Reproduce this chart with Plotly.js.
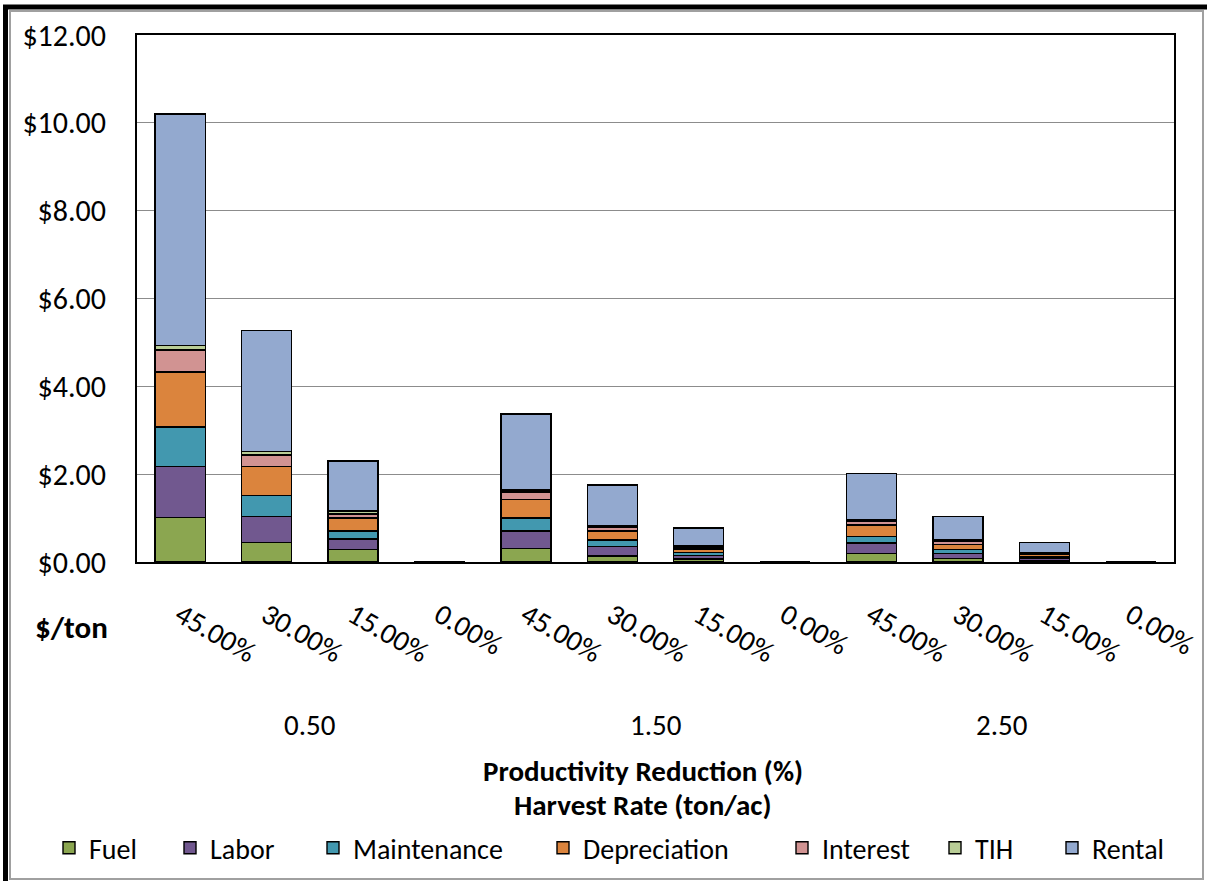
<!DOCTYPE html>
<html>
<head>
<meta charset="utf-8">
<script src="https://cdn.plot.ly/plotly-3.0.1.min.js"></script>
<style>
  html, body { margin: 0; padding: 0; background: #ffffff; }
  #chart { width: 1207px; height: 881px; }
</style>
</head>
<body>
<div id="chart"></div>
<script>
// ---- data ----
const harvestRates = ['0.50', '1.50', '2.50'];
const reductions = ['45.00%', '30.00%', '15.00%', '0.00%'];

const fuel         = [1.01, 0.44, 0.28, 0, 0.31, 0.14, 0.07, 0, 0.19, 0.08, 0.04, 0];
const labor        = [1.16, 0.60, 0.24, 0, 0.40, 0.21, 0.08, 0, 0.24, 0.12, 0.05, 0];
const maintenance  = [0.90, 0.47, 0.19, 0, 0.29, 0.15, 0.06, 0, 0.15, 0.09, 0.03, 0];
const depreciation = [1.26, 0.66, 0.29, 0, 0.43, 0.21, 0.09, 0, 0.26, 0.11, 0.05, 0];
const interest     = [0.50, 0.27, 0.09, 0, 0.16, 0.08, 0.04, 0, 0.08, 0.07, 0.03, 0];
const tih          = [0.10, 0.07, 0.07, 0, 0.05, 0.03, 0.03, 0, 0.04, 0.03, 0.02, 0];
const rental       = [5.27, 2.76, 1.14, 0, 1.73, 0.93, 0.40, 0, 1.06, 0.53, 0.23, 0];

const seriesNames = ['Fuel', 'Labor', 'Maintenance', 'Depreciation', 'Interest', 'TIH', 'Rental'];
const seriesColors = ['#8BA650', '#71588F', '#4298AF', '#DB843D', '#D19392', '#B9CD96', '#93A9CF'];
const seriesValues = [fuel, labor, maintenance, depreciation, interest, tih, rental];

// ---- build categories ----
const cats = [];
const tickText = [];
harvestRates.forEach(h => reductions.forEach(r => { cats.push(h + ' | ' + r); tickText.push(r); }));

const FONT = 'Carlito, "Liberation Sans Narrow", "Open Sans", "Noto Sans", sans-serif';
const FS = 29;

// geometry helpers (pixels -> paper / container)
const W = 1207, H = 881, L = 137, R = 33, T = 35, B = 319;
const PW = W - L - R, PH = H - T - B;
const px = v => (v - L) / PW;
const py = v => (H - B - v) / PH;

// legend entry left positions (pixels, swatch left in reference)
const legendSwatchX = [62, 183, 326, 556, 795, 948, 1065];

const traces = seriesNames.map((name, i) => ({
  type: 'bar',
  name: name,
  x: cats,
  y: seriesValues[i],
  marker: { color: seriesColors[i], line: { color: '#000000', width: 1.4 } },
  legend: i === 0 ? 'legend' : 'legend' + (i + 1),
  hoverinfo: 'skip'
}));

const annotations = [];
harvestRates.forEach((h, gi) => {
  annotations.push({
    text: h, xref: 'x', yref: 'paper', x: gi * reductions.length + (reductions.length - 1) / 2,
    y: py(725), showarrow: false, xanchor: 'center', yanchor: 'middle',
    font: { family: FONT, size: FS, color: '#000' }
  });
});
annotations.push({ text: '<b>$/ton</b>', xref: 'paper', yref: 'paper', x: px(71), y: py(627),
  showarrow: false, xanchor: 'center', yanchor: 'middle', font: { family: FONT, size: 31, color: '#000' } });
annotations.push({ text: '<b>Productivity Reduction (%)</b>', xref: 'paper', yref: 'paper', x: px(643), y: py(771),
  showarrow: false, xanchor: 'center', yanchor: 'middle', font: { family: FONT, size: FS, color: '#000' } });
annotations.push({ text: '<b>Harvest Rate (ton/ac)</b>', xref: 'paper', yref: 'paper', x: px(643), y: py(805),
  showarrow: false, xanchor: 'center', yanchor: 'middle', font: { family: FONT, size: FS, color: '#000' } });

const shapes = [
  { type: 'rect', xref: 'paper', yref: 'paper', x0: px(10), x1: px(1203), y0: py(879), y1: py(11),
    line: { color: '#A0A0A0', width: 2 }, fillcolor: 'rgba(0,0,0,0)', layer: 'below' },
  { type: 'line', xref: 'paper', yref: 'paper', x0: px(3), x1: px(1207), y0: py(7), y1: py(7),
    line: { color: '#000', width: 5 } },
  { type: 'line', xref: 'paper', yref: 'paper', x0: px(5.5), x1: px(5.5), y0: py(5), y1: py(881),
    line: { color: '#000', width: 5 } }
];

const layout = {
  width: W, height: H,
  margin: { l: L, r: R, t: T, b: B, pad: 0 },
  paper_bgcolor: '#ffffff', plot_bgcolor: '#ffffff',
  barmode: 'stack',
  bargap: 0.42,
  showlegend: true,
  font: { family: FONT, size: FS, color: '#000' },
  xaxis: {
    type: 'category',
    tickvals: cats, ticktext: tickText,
    tickangle: 30,
    ticks: '', ticklabelstandoff: 23,
    showline: true, mirror: true, linecolor: '#000', linewidth: 2,
    showgrid: false, zeroline: false,
    tickfont: { family: FONT, size: FS, color: '#000' },
    fixedrange: true
  },
  yaxis: {
    range: [0, 12], dtick: 2, tick0: 0,
    tickprefix: '$', tickformat: '.2f',
    ticks: '', ticklabelstandoff: 23,
    showline: true, mirror: true, linecolor: '#000', linewidth: 2,
    showgrid: true, gridcolor: '#8C8C8C', gridwidth: 1,
    zeroline: false,
    tickfont: { family: FONT, size: 30, color: '#000' },
    fixedrange: true
  },
  annotations: annotations,
  shapes: shapes
};

// one legend box per series, each placed where the reference shows it
seriesNames.forEach((name, i) => {
  const key = i === 0 ? 'legend' : 'legend' + (i + 1);
  layout[key] = {
    orientation: 'h', xref: 'container', yref: 'container',
    x: (legendSwatchX[i] - 13) / W, xanchor: 'left',
    y: 1 - 848 / H, yanchor: 'middle',
    bgcolor: 'rgba(0,0,0,0)', borderwidth: 0,
    font: { family: FONT, size: 28, color: '#000' },
    itemclick: false, itemdoubleclick: false, itemwidth: 30
  };
});

Plotly.newPlot('chart', traces, layout, { displayModeBar: false, staticPlot: true });
</script>
</body>
</html>
